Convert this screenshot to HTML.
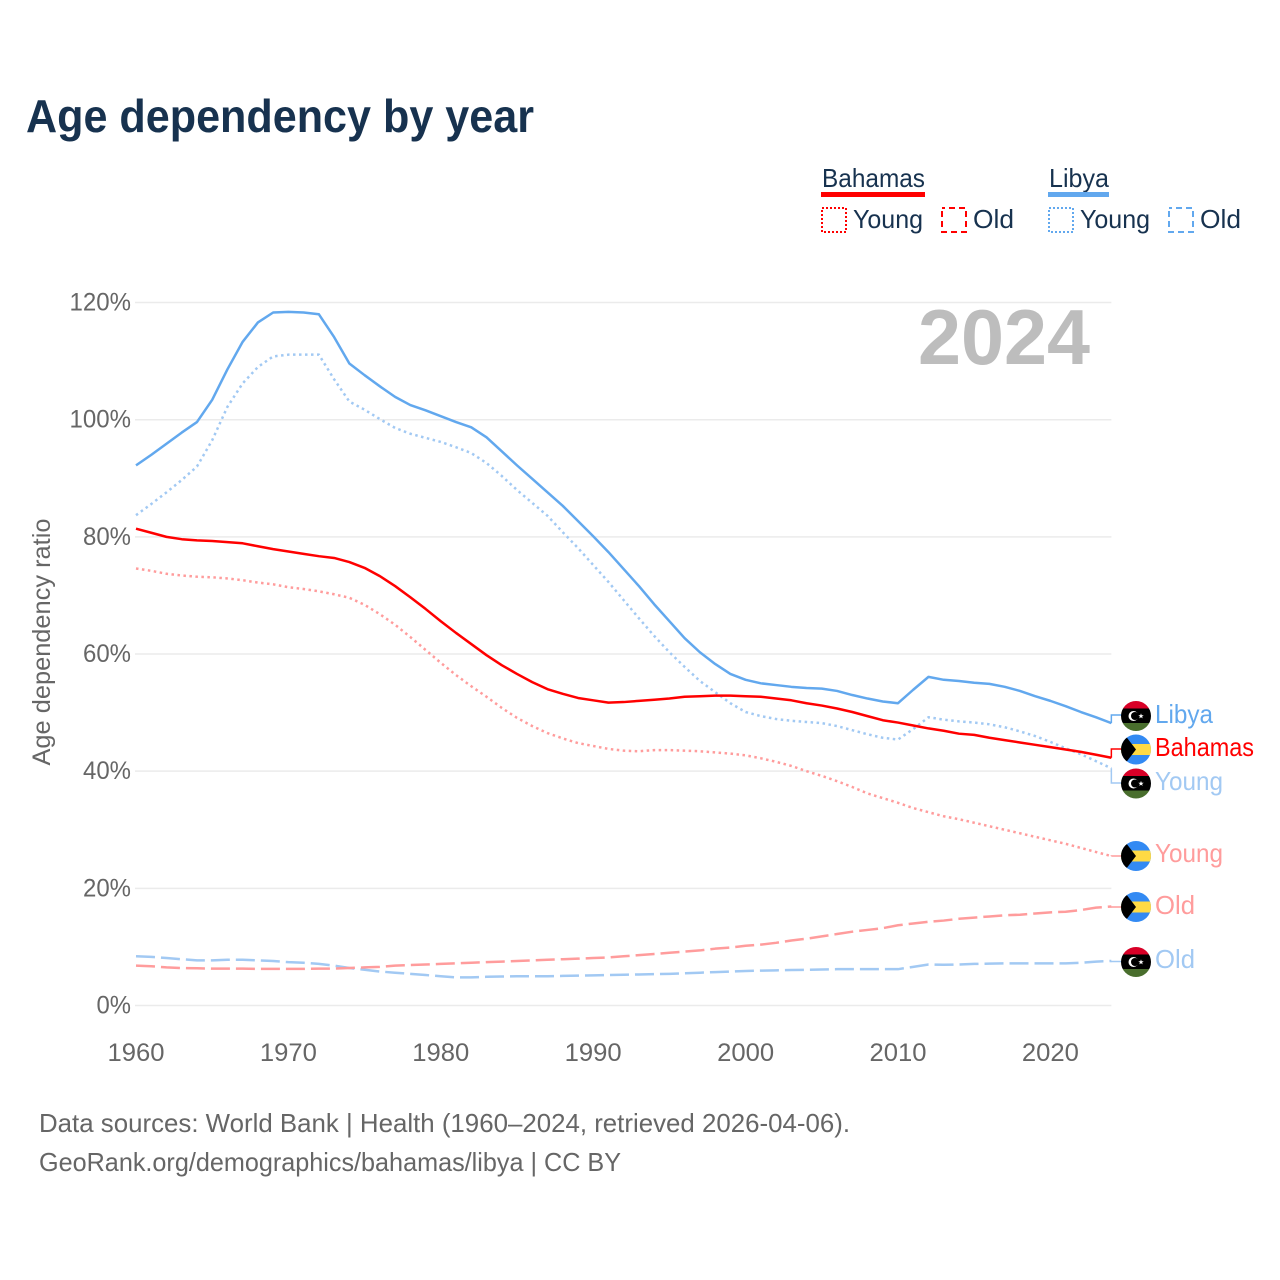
<!DOCTYPE html>
<html>
<head>
<meta charset="utf-8">
<title>Age dependency by year</title>
<style>
html,body{margin:0;padding:0;background:#fff;width:1280px;height:1280px;overflow:hidden}
svg{display:block}
text{font-family:"Liberation Sans",sans-serif}
</style>
</head>
<body>
<svg id="chart" xmlns="http://www.w3.org/2000/svg" width="1280" height="1280" viewBox="0 0 1280 1280">
  <defs>
    <clipPath id="flag-clip"><circle cx="0" cy="0" r="15"/></clipPath>
    <g id="flag-libya">
      <g clip-path="url(#flag-clip)">
        <rect x="-15" y="-15" width="30" height="8" fill="#d80027"/>
        <rect x="-15" y="-7.5" width="30" height="15" fill="#000"/>
        <rect x="-15" y="7" width="30" height="8" fill="#496e2d"/>
        <circle cx="-2.5" cy="0" r="5" fill="#fff"/>
        <circle cx="-1" cy="0" r="4" fill="#000"/>
        <polygon points="5,-2.6 5.7,-0.7 7.7,-0.7 6.1,0.5 6.7,2.4 5,1.2 3.3,2.4 3.9,0.5 2.3,-0.7 4.3,-0.7" fill="#fff"/>
      </g>
    </g>
    <g id="flag-bahamas">
      <g clip-path="url(#flag-clip)">
        <rect x="-15" y="-15" width="30" height="30" fill="#338af3"/>
        <rect x="-15" y="-5.5" width="30" height="11" fill="#ffda44"/>
        <polygon points="-15,-15 -10,-13 0,0 -10,13 -15,15" fill="#000"/>
      </g>
    </g>
  </defs>

  <rect x="0" y="0" width="1280" height="1280" fill="#fff"/>

  <text x="26" y="132" font-size="46" font-weight="700" fill="#17324f" textLength="508" lengthAdjust="spacingAndGlyphs">Age dependency by year</text>

  <g font-size="26" fill="#17324f">
    <g>
      <text x="822" y="187" textLength="103" lengthAdjust="spacingAndGlyphs">Bahamas</text>
      <rect x="821" y="192" width="104" height="5" fill="#ff0000"/>
    </g>
    <g>
      <rect x="822" y="208" width="24" height="24" fill="none" stroke="#ff0000" stroke-width="2" stroke-dasharray="2 2"/>
      <text x="853" y="228" textLength="70" lengthAdjust="spacingAndGlyphs">Young</text>
    </g>
    <g>
      <rect x="942" y="208" width="24" height="24" fill="none" stroke="#ff0000" stroke-width="2" stroke-dasharray="6 4" stroke-dashoffset="3"/>
      <text x="973" y="228" textLength="41" lengthAdjust="spacingAndGlyphs">Old</text>
    </g>
    <g>
      <text x="1049" y="187" textLength="60" lengthAdjust="spacingAndGlyphs">Libya</text>
      <rect x="1048" y="192" width="61" height="5" fill="#62a8ee"/>
    </g>
    <g>
      <rect x="1049" y="208" width="24" height="24" fill="none" stroke="#62a8ee" stroke-width="2" stroke-dasharray="2 2"/>
      <text x="1080" y="228" textLength="70" lengthAdjust="spacingAndGlyphs">Young</text>
    </g>
    <g>
      <rect x="1169" y="208" width="24" height="24" fill="none" stroke="#62a8ee" stroke-width="2" stroke-dasharray="6 4" stroke-dashoffset="3"/>
      <text x="1200" y="228" textLength="41" lengthAdjust="spacingAndGlyphs">Old</text>
    </g>
  </g>

  <g id="grid"></g>
  <g id="y-ticks"></g>
  <g id="x-ticks"></g>

  <text transform="translate(50,642) rotate(-90)" text-anchor="middle" font-size="25" fill="#666" textLength="247" lengthAdjust="spacingAndGlyphs">Age dependency ratio</text>

  <text x="918" y="364" font-size="78" font-weight="700" fill="#bdbdbd" textLength="172" lengthAdjust="spacingAndGlyphs">2024</text>

  <g id="series"></g>

  <g font-size="26">
    <use href="#flag-libya" x="1136" y="716"/>
    <use href="#flag-bahamas" x="1136" y="749.5"/>
    <use href="#flag-libya" x="1136" y="783.5"/>
    <use href="#flag-bahamas" x="1136" y="856"/>
    <use href="#flag-bahamas" x="1136" y="907"/>
    <use href="#flag-libya" x="1136" y="962"/>
    <text x="1155" y="723" fill="#62a8ee" textLength="58" lengthAdjust="spacingAndGlyphs">Libya</text>
    <text x="1155" y="756" fill="#ff0000" textLength="99" lengthAdjust="spacingAndGlyphs">Bahamas</text>
    <text x="1155" y="790" fill="#a2c9f3" textLength="68" lengthAdjust="spacingAndGlyphs">Young</text>
    <text x="1155" y="862" fill="#ff9c9c" textLength="68" lengthAdjust="spacingAndGlyphs">Young</text>
    <text x="1155" y="914" fill="#ff9c9c" textLength="40" lengthAdjust="spacingAndGlyphs">Old</text>
    <text x="1155" y="968" fill="#a2c9f3" textLength="40" lengthAdjust="spacingAndGlyphs">Old</text>
  </g>

  <g font-size="26" fill="#666">
    <text x="39" y="1132" textLength="811" lengthAdjust="spacingAndGlyphs">Data sources: World Bank | Health (1960–2024, retrieved 2026-04-06).</text>
    <text x="39" y="1171" textLength="582" lengthAdjust="spacingAndGlyphs">GeoRank.org/demographics/bahamas/libya | CC BY</text>
  </g>
</svg>

<script>
var firstYear = 1960;
var yTickValues = [0, 20, 40, 60, 80, 100, 120];
var xTickValues = [1960, 1970, 1980, 1990, 2000, 2010, 2020];

var libyaTotal = [92.2,94.0,95.9,97.8,99.6,103.4,108.6,113.3,116.6,118.3,118.4,118.3,118.0,114.1,109.6,107.6,105.7,103.9,102.5,101.6,100.6,99.6,98.7,97.0,94.6,92.2,89.9,87.6,85.3,82.7,80.1,77.4,74.5,71.6,68.5,65.6,62.7,60.3,58.3,56.6,55.6,55.0,54.7,54.4,54.2,54.1,53.7,53.0,52.4,51.9,51.6,53.9,56.1,55.6,55.4,55.1,54.9,54.4,53.7,52.8,52.0,51.1,50.1,49.2,48.2];
var libyaYoung = [83.7,85.6,87.6,89.7,92.0,96.5,102.2,106.2,109.0,110.8,111.1,111.1,111.1,106.9,103.1,101.7,100.1,98.6,97.6,96.9,96.2,95.3,94.3,92.6,90.4,88.0,85.8,83.6,80.8,78.1,75.2,72.3,69.2,66.1,63.1,60.3,57.8,55.4,53.5,51.6,50.1,49.4,48.9,48.6,48.4,48.2,47.7,47.0,46.3,45.7,45.4,47.2,49.2,48.8,48.5,48.3,48.0,47.5,46.8,46.0,45.0,43.9,42.9,41.7,40.5];
var libyaOld = [8.4,8.3,8.1,7.9,7.7,7.7,7.8,7.8,7.7,7.6,7.4,7.3,7.1,6.8,6.4,6.1,5.8,5.6,5.4,5.2,5.0,4.8,4.8,4.9,4.95,5.0,5.0,5.0,5.05,5.1,5.15,5.2,5.25,5.3,5.35,5.4,5.5,5.6,5.7,5.8,5.9,5.95,6.0,6.05,6.1,6.15,6.2,6.2,6.2,6.2,6.2,6.6,7.0,6.95,7.0,7.1,7.15,7.2,7.2,7.2,7.2,7.2,7.3,7.5,7.6];
var bahamasTotal = [81.4,80.7,80.0,79.6,79.4,79.3,79.1,78.9,78.4,77.9,77.5,77.1,76.7,76.4,75.7,74.7,73.3,71.6,69.7,67.7,65.6,63.6,61.7,59.8,58.1,56.6,55.2,54.0,53.2,52.5,52.1,51.7,51.8,52.0,52.2,52.4,52.7,52.8,52.9,52.9,52.8,52.7,52.4,52.1,51.6,51.2,50.7,50.1,49.4,48.7,48.3,47.8,47.3,46.9,46.4,46.2,45.7,45.3,44.9,44.5,44.1,43.7,43.3,42.8,42.3];
var bahamasYoung = [74.6,74.2,73.7,73.4,73.2,73.1,72.9,72.6,72.2,71.9,71.4,71.1,70.7,70.2,69.6,68.4,66.8,65.0,62.9,60.7,58.5,56.4,54.5,52.7,50.8,49.1,47.7,46.5,45.6,44.8,44.3,43.8,43.5,43.4,43.6,43.6,43.5,43.4,43.2,43.0,42.7,42.2,41.6,40.9,40.0,39.2,38.3,37.3,36.2,35.4,34.6,33.7,33.0,32.3,31.8,31.2,30.6,30.0,29.4,28.8,28.2,27.6,26.9,26.2,25.5];
var bahamasOld = [6.8,6.7,6.5,6.4,6.35,6.3,6.3,6.3,6.25,6.25,6.25,6.25,6.3,6.3,6.4,6.5,6.6,6.8,6.9,7.0,7.1,7.2,7.3,7.4,7.5,7.6,7.7,7.8,7.9,8.0,8.1,8.2,8.4,8.6,8.8,9.0,9.2,9.4,9.7,9.9,10.2,10.4,10.7,11.1,11.4,11.8,12.2,12.6,12.9,13.2,13.7,14.0,14.3,14.5,14.8,15.0,15.2,15.4,15.5,15.7,15.9,16.0,16.3,16.7,16.9];

var SVG_NS = 'http://www.w3.org/2000/svg';

function xScale(year) {
  return 136 + (year - 1960) * 15.24;
}
function yScale(pct) {
  return 1005.5 - pct * 5.858;
}
function pointsFor(values) {
  return values.map(function (v, i) {
    return xScale(firstYear + i).toFixed(2) + ',' + yScale(v).toFixed(2);
  }).join(' ');
}
function makeLine(values, color, width, dash) {
  var line = document.createElementNS(SVG_NS, 'polyline');
  line.setAttribute('points', pointsFor(values));
  line.setAttribute('fill', 'none');
  line.setAttribute('stroke', color);
  line.setAttribute('stroke-width', width);
  line.setAttribute('stroke-linejoin', 'round');
  if (dash) line.setAttribute('stroke-dasharray', dash);
  return line;
}
function makeConnector(values, endLabelY, color) {
  var lastX = xScale(firstYear + values.length - 1);
  var lastY = yScale(values[values.length - 1]);
  var path = document.createElementNS(SVG_NS, 'polyline');
  path.setAttribute('points', lastX.toFixed(2) + ',' + lastY.toFixed(2) + ' ' + lastX.toFixed(2) + ',' + endLabelY + ' 1122,' + endLabelY);
  path.setAttribute('fill', 'none');
  path.setAttribute('stroke', color);
  path.setAttribute('stroke-width', 1.5);
  return path;
}

var gridGroup = document.getElementById('grid');
var yTickGroup = document.getElementById('y-ticks');
var xTickGroup = document.getElementById('x-ticks');
var seriesGroup = document.getElementById('series');

yTickValues.forEach(function (v) {
  var g = document.createElementNS(SVG_NS, 'line');
  
  
  g.setAttribute('x1', 135);
  g.setAttribute('x2', xScale(2024));
  g.setAttribute('y1', yScale(v));
  g.setAttribute('y2', yScale(v));
  g.setAttribute('stroke', '#ebebeb');
  g.setAttribute('stroke-width', 1.5);
  gridGroup.appendChild(g);

  var t = document.createElementNS(SVG_NS, 'text');
  
  
  t.setAttribute('x', 131);
  t.setAttribute('y', yScale(v) + 8);
  t.setAttribute('text-anchor', 'end');
  t.setAttribute('font-size', 25);
  t.setAttribute('fill', '#666');
  t.setAttribute('textLength', String(v).length * 13.5 + 21);
  t.setAttribute('lengthAdjust', 'spacingAndGlyphs');
  t.textContent = v + '%';
  yTickGroup.appendChild(t);
});

xTickValues.forEach(function (year) {
  var t = document.createElementNS(SVG_NS, 'text');
  
  
  t.setAttribute('x', xScale(year));
  t.setAttribute('y', 1061);
  t.setAttribute('text-anchor', 'middle');
  t.setAttribute('font-size', 25);
  t.setAttribute('fill', '#666');
  t.setAttribute('textLength', 57);
  t.setAttribute('lengthAdjust', 'spacingAndGlyphs');
  t.textContent = year;
  xTickGroup.appendChild(t);
});

var connectorLibyaOld = makeConnector(libyaOld, 961.5, '#a2c9f3');


seriesGroup.appendChild(connectorLibyaOld);

var connectorBahamasOld = makeConnector(bahamasOld, 907, '#ff9c9c');


seriesGroup.appendChild(connectorBahamasOld);

var connectorBahamasYoung = makeConnector(bahamasYoung, 856, '#ff9c9c');


seriesGroup.appendChild(connectorBahamasYoung);

var connectorLibyaYoung = makeConnector(libyaYoung, 783, '#a2c9f3');


seriesGroup.appendChild(connectorLibyaYoung);

var connectorLibyaTotal = makeConnector(libyaTotal, 715, '#62a8ee');


seriesGroup.appendChild(connectorLibyaTotal);

var connectorBahamasTotal = makeConnector(bahamasTotal, 749, '#ff0000');


seriesGroup.appendChild(connectorBahamasTotal);

var lineLibyaOld = makeLine(libyaOld, '#a2c9f3', 2.5, '19 6');


seriesGroup.appendChild(lineLibyaOld);

var lineBahamasOld = makeLine(bahamasOld, '#ff9c9c', 2.5, '19 6');


seriesGroup.appendChild(lineBahamasOld);

var lineBahamasYoung = makeLine(bahamasYoung, '#ff9c9c', 2.5, '2.5 3.5');


seriesGroup.appendChild(lineBahamasYoung);

var lineLibyaYoung = makeLine(libyaYoung, '#a2c9f3', 2.5, '2.5 3.5');


seriesGroup.appendChild(lineLibyaYoung);

var lineLibyaTotal = makeLine(libyaTotal, '#62a8ee', 2.5, null);


seriesGroup.appendChild(lineLibyaTotal);

var lineBahamasTotal = makeLine(bahamasTotal, '#ff0000', 2.5, null);


seriesGroup.appendChild(lineBahamasTotal);
</script>
</body>
</html>
